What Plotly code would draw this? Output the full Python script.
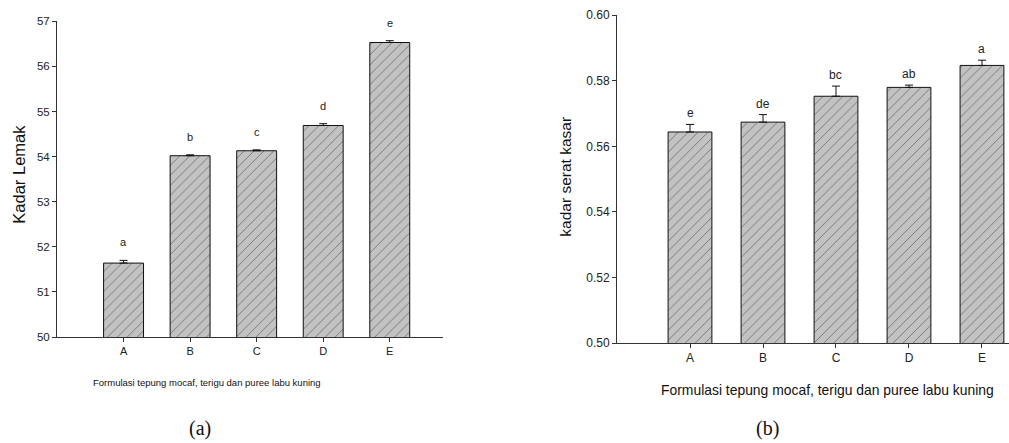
import plotly.graph_objects as go

categories = ["A", "B", "C", "D", "E"]

# (a) Kadar Lemak
fat_values = [51.64, 54.02, 54.13, 54.69, 56.53]
fat_errors = [0.06, 0.02, 0.02, 0.04, 0.04]
fat_letters = ["a", "b", "c", "d", "e"]

# (b) kadar serat kasar
fiber_values = [0.5644, 0.5674, 0.5753, 0.5780, 0.5847]
fiber_errors = [0.0023, 0.0023, 0.0031, 0.0007, 0.0016]
fiber_letters = ["e", "de", "bc", "ab", "a"]

x_title = "Formulasi tepung mocaf, terigu dan puree labu kuning"

W, H = 1009, 443
FONT = "Liberation Sans, Arial, sans-serif"
SERIF = "Liberation Serif, Times New Roman, serif"

# observed vertical mapping of the capture (slight squeeze), compensated here
V_OFF, V_SCALE = 7.75, 0.966

def px_x(p):
    return p / W

def px_y(p):
    return 1 - ((p - V_OFF) / V_SCALE) / H

xi = list(range(len(categories)))

pattern = dict(shape="/", size=7, solidity=0.14, fgcolor="#333333", bgcolor="#c2c2c2")

fig = go.Figure()
fig.add_trace(go.Bar(
    x=xi, y=fat_values, width=0.6,
    marker=dict(color="#c2c2c2", pattern=pattern, line=dict(color="#111", width=1)),
    error_y=dict(type="data", symmetric=False, array=fat_errors,
                 arrayminus=[0] * len(fat_errors), color="#111", thickness=1, width=4),
    xaxis="x", yaxis="y", showlegend=False,
))
fig.add_trace(go.Bar(
    x=xi, y=fiber_values, width=0.6,
    marker=dict(color="#c2c2c2", pattern=pattern, line=dict(color="#111", width=1)),
    error_y=dict(type="data", symmetric=False, array=fiber_errors,
                 arrayminus=[0] * len(fiber_errors), color="#111", thickness=1, width=4),
    xaxis="x2", yaxis="y2", showlegend=False,
))

annotations = []
for i, (v, e, t) in enumerate(zip(fat_values, fat_errors, fat_letters)):
    annotations.append(dict(x=i, y=v + e, xref="x", yref="y", text=t, showarrow=False,
                            yanchor="bottom", yshift=10,
                            font=dict(family=FONT, size=11, color="#222")))
for i, (v, e, t) in enumerate(zip(fiber_values, fiber_errors, fiber_letters)):
    annotations.append(dict(x=i, y=v + e, xref="x2", yref="y2", text=t, showarrow=False,
                            yanchor="bottom", yshift=2,
                            font=dict(family=FONT, size=12, color="#222")))

def label(x, y, text, size, family=FONT, angle=0):
    return dict(x=px_x(x), y=px_y(y), xref="paper", yref="paper", text=text,
                textangle=angle, showarrow=False, xanchor="center", yanchor="middle",
                font=dict(family=family, size=size, color="#111"))

annotations += [
    label(19, 175, "Kadar Lemak", 16.5, angle=-90),
    label(566, 177, "kadar serat kasar", 15.5, angle=-90),
    label(207, 382, x_title, 9.5),
    label(827, 390, x_title, 13.9),
    label(200, 428, "(a)", 20, family=SERIF),
    label(767, 428, "(b)", 20, family=SERIF),
]

axis_common = dict(showline=True, linecolor="#333", linewidth=1, ticks="outside",
                   tickcolor="#333", ticklen=4, showgrid=False, zeroline=False)

fig.update_layout(
    width=W, height=H,
    margin=dict(l=0, r=0, t=0, b=0),
    paper_bgcolor="white", plot_bgcolor="white",
    xaxis=dict(domain=[px_x(57), px_x(443)], range=[-1, 4.8], anchor="y",
               tickvals=xi, ticktext=categories,
               tickfont=dict(family=FONT, size=11, color="#222"), **axis_common),
    yaxis=dict(domain=[px_y(337), px_y(22)], range=[50, 57], anchor="x",
               tickvals=[50, 51, 52, 53, 54, 55, 56, 57],
               tickfont=dict(family=FONT, size=11.5, color="#222"), **axis_common),
    xaxis2=dict(domain=[px_x(617), 1.0], range=[-1, 4.37], anchor="y2",
                tickvals=xi, ticktext=categories,
                tickfont=dict(family=FONT, size=12, color="#222"), **axis_common),
    yaxis2=dict(domain=[px_y(343), px_y(16)], range=[0.5, 0.6], anchor="x2",
                tickvals=[0.50, 0.52, 0.54, 0.56, 0.58, 0.60], tickformat=".2f",
                tickfont=dict(family=FONT, size=12, color="#222"), **axis_common),
    annotations=annotations,
)

fix_page = (
    "var d=document.documentElement,b=document.body;"
    "[d,b].forEach(function(e){e.style.margin='0';e.style.padding='0';"
    "e.style.overflow='hidden';});"
    "window.scrollTo(0,0);"
)

fig.write_html("out.html", config={"displayModeBar": False}, post_script=fix_page)
